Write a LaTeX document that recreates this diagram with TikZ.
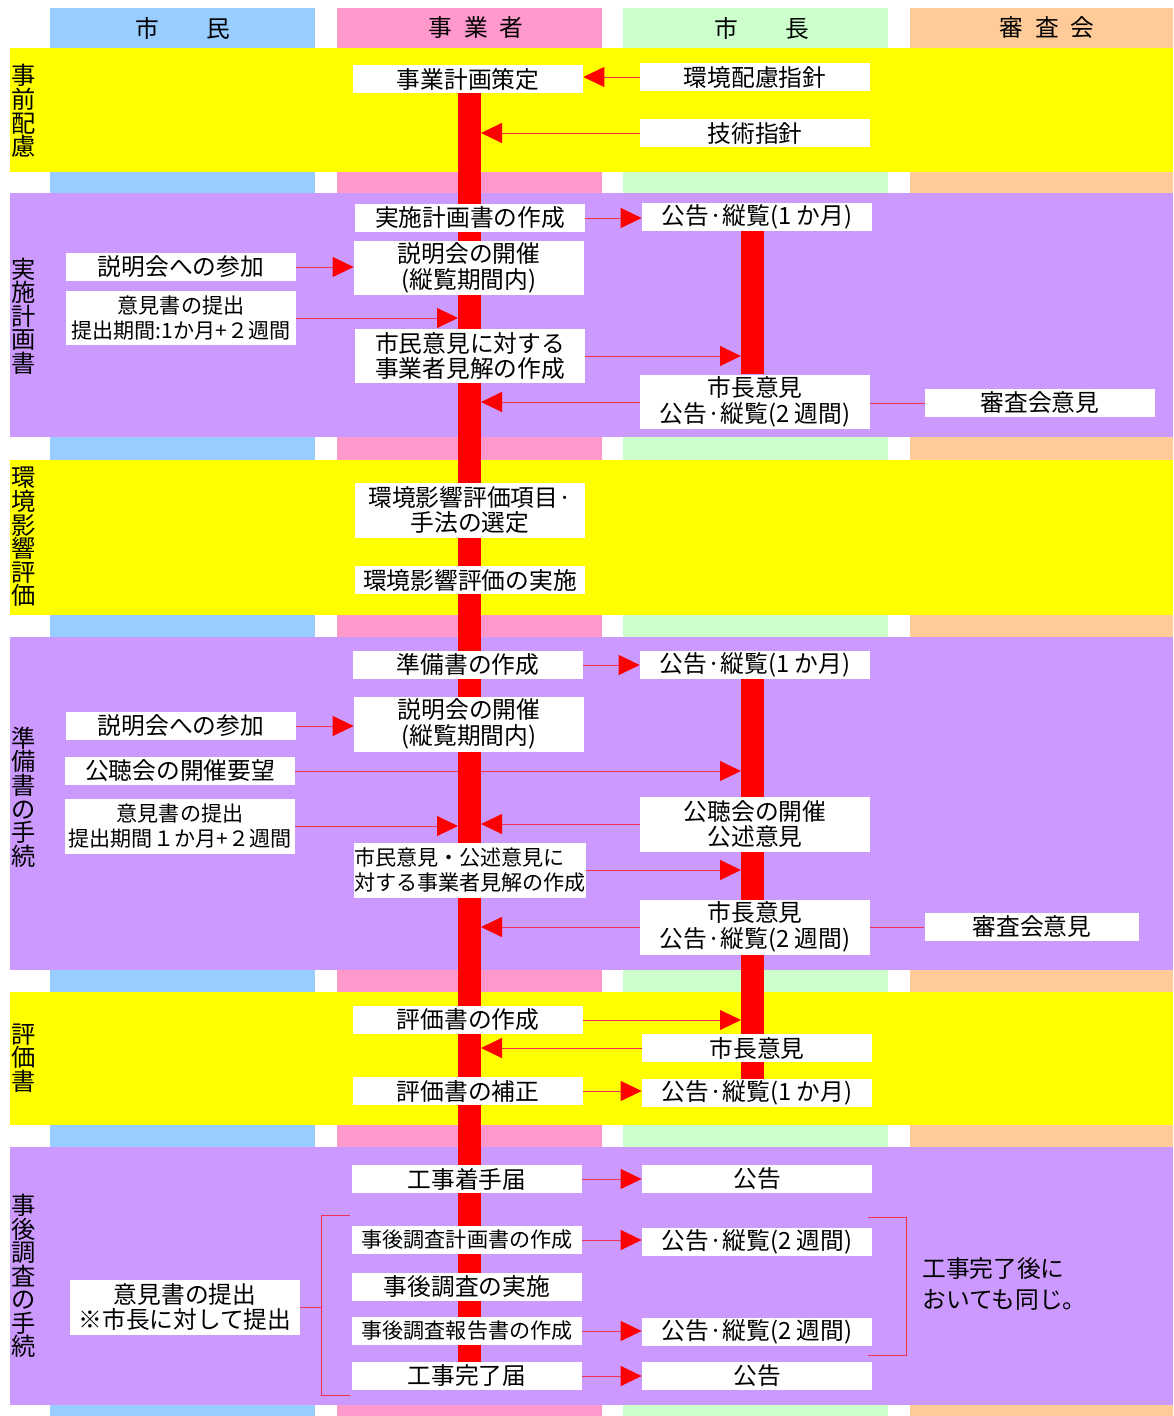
\documentclass[tikz,border=0pt]{standalone}
\usepackage{fontspec}
\newfontfamily\jp{Noto Sans CJK JP}
\usetikzlibrary{arrows.meta,positioning,calc}
\definecolor{laneblue}{HTML}{99CCFF}
\definecolor{lanepink}{HTML}{FF99CC}
\definecolor{lanegreen}{HTML}{CCFFCC}
\definecolor{laneorange}{HTML}{FFCC99}
\definecolor{bandyellow}{HTML}{FFFF00}
\definecolor{bandpurple}{HTML}{CC99FF}
\definecolor{linkred}{HTML}{F03050}
\pgfdeclarelayer{back}
\pgfdeclarelayer{mid}
\pgfsetlayers{back,mid,main}
\tikzset{
  box/.style={
    fill=white,
    inner sep=0pt,
    minimum width=4.6cm,
    minimum height=0.56cm,
    align=center,
    font=\jp\fontsize{13.5}{14.7}\selectfont},
  tallbox/.style={box, minimum height=1.1cm},
  small/.style={font=\jp\fontsize{12}{14.7}\selectfont},
  head/.style={inner sep=0pt, font=\jp\fontsize{13.5}{14.7}\selectfont},
  sidelabel/.style={inner sep=0pt, align=center,
    font=\jp\fontsize{13.8}{13.4}\selectfont},
  link/.style={draw=linkred, line width=0.5pt},
  arr/.style={link, -{Triangle[length=0.42cm, width=0.4cm, color=red]}},
  spine/.style={draw=red, line width=0.46cm},
}

\begin{document}
\begin{tikzpicture}[x=0.02cm, y=-0.02cm]
    \useasboundingbox (0,0) rectangle (1173,1416);

    % lanes and bands
    \begin{pgfonlayer}{back}
    \fill[laneblue] (50,8) rectangle (315,1416);
    \fill[lanepink] (337,8) rectangle (602,1416);
    \fill[lanegreen] (623,8) rectangle (888,1416);
    \fill[laneorange] (910,8) rectangle (1173,1416);
    \fill[bandyellow] (10,48) rectangle (1173,172);
    \fill[bandpurple] (10,193) rectangle (1173,437);
    \fill[bandyellow] (10,460) rectangle (1173,615);
    \fill[bandpurple] (10,637) rectangle (1173,970);
    \fill[bandyellow] (10,992) rectangle (1173,1125);
    \fill[bandpurple] (10,1147) rectangle (1173,1405);
    \end{pgfonlayer}

    \node[head] (hdshimin) at (183,28) {市\hspace{2em}民};
    \node[head] (hdjigyo) at (476,28) {事\hspace{0.5em}業\hspace{0.5em}者};
    \node[head] (hdshicho) at (762,28) {市\hspace{2em}長};
    \node[head] (hdshinsa) at (1047,28) {審\hspace{0.5em}査\hspace{0.5em}会};

    \node[sidelabel] (lbjizen) at (24,111) {事\\前\\配\\慮};
    \node[sidelabel] (lbjisshi) at (24,316) {実\\施\\計\\画\\書};
    \node[sidelabel] (lbeikyo) at (24,537) {環\\境\\影\\響\\評\\価};
    \node[sidelabel] (lbjunbi) at (24,797) {準\\備\\書\\の\\手\\続};
    \node[sidelabel] (lbhyoka) at (24,1058) {評\\価\\書};
    \node[sidelabel] (lbjigo) at (24,1276) {事\\後\\調\\査\\の\\手\\続};

    \coordinate (bizX) at (469.5,0);
    \coordinate (bizL) at (458,0);
    \coordinate (bizR) at (481,0);
    \coordinate (mayX) at (752.5,0);
    \coordinate (mayL) at (741,0);

    % 事前配慮
    \node[box] (keikaku) at (468,79) {事業計画策定};
    \node[box] (hairyo) at (755,77) {環境配慮指針};
    \node[box] (gijutsu) at (755,133) {技術指針};

    % 実施計画書
    \node[box] (jisshi) at (470,218) {実施計画書の作成};
    \node[box] (kokoku1) at (757,217) {公告·縦覧(1 か月)};
    \node[tallbox] (setsumei1) at (469,268) {説明会の開催\\(縦覧期間内)};
    \node[box] (sanka1) at (181,267) {説明会への参加};
    \node[tallbox, small] (iken1) at (181,318) {意見書の提出\\提出期間:1か月+２週間};
    \node[tallbox] (kenkai1) at (470,356) {市民意見に対する\\事業者見解の作成};
    \node[tallbox] (shicho1) at (755,402) {市長意見\\公告·縦覧(2 週間)};
    \node[box] (shinsa1) at (1040,403) {審査会意見};

    % 環境影響評価
    \node[tallbox] (komoku) at (470,510) {環境影響評価項目·\\手法の選定};
    \node[box] (hyoka) at (470,580) {環境影響評価の実施};

    % 準備書
    \node[box] (junbi) at (468,665) {準備書の作成};
    \node[box] (kokoku2) at (755,665) {公告·縦覧(1 か月)};
    \node[tallbox] (setsumei2) at (469,724) {説明会の開催\\(縦覧期間内)};
    \node[box] (sanka2) at (181,726) {説明会への参加};
    \node[box] (yobo) at (180,771) {公聴会の開催要望};
    \node[tallbox, small] (iken2) at (180,826) {意見書の提出\\提出期間１か月+２週間};
    \node[tallbox] (kochokai) at (755,824) {公聴会の開催\\公述意見};
    \node[tallbox, small, align=left] (kenkai2) at (470,870) {市民意見・公述意見に\\対する事業者見解の作成};
    \node[tallbox] (shicho2) at (755,927) {市長意見\\公告·縦覧(2 週間)};
    \node[box, minimum width=4.3cm] (shinsa2) at (1032,927) {審査会意見};

    % 評価書
    \node[box] (hyokasho) at (468,1020) {評価書の作成};
    \node[box] (shicho3) at (757,1048) {市長意見};
    \node[box] (hosei) at (468,1091) {評価書の補正};
    \node[box] (kokoku3) at (757,1093) {公告·縦覧(1 か月)};

    % 事後調査
    \node[box] (chakushu) at (467,1179) {工事着手届};
    \node[box] (kokoku4) at (757,1179) {公告};
    \node[box, small] (keikakusho) at (467,1240) {事後調査計画書の作成};
    \node[box] (kokoku5) at (757,1242) {公告·縦覧(2 週間)};
    \node[box] (jigo) at (467,1287) {事後調査の実施};
    \node[box, small] (hokoku) at (467,1331) {事後調査報告書の作成};
    \node[box] (kokoku6) at (757,1332) {公告·縦覧(2 週間)};
    \node[box] (kanryo) at (467,1376) {工事完了届};
    \node[box] (kokoku7) at (757,1376) {公告};
    \node[tallbox] (iken3) at (185,1307) {意見書の提出\\※市長に対して提出};
    \node[head, anchor=west, align=left,
          font=\jp\fontsize{13.5}{18}\selectfont] (onaji) at (922,1284)
          {工事完了後に\\おいても同じ。};

    \coordinate (brA) at (350,1215);
    \coordinate (brB) at (350,1395);
    \coordinate (brX) at (321,0);
    \coordinate (brC) at (868,1217);
    \coordinate (brD) at (868,1355);
    \coordinate (brY) at (906,0);

    \begin{pgfonlayer}{mid}
    \draw[arr] (hairyo.west) -- (hairyo.west -| keikaku.east);
    \draw[arr] (gijutsu.west) -- (gijutsu.west -| bizR);

    \draw[arr] (jisshi.east) -- (jisshi.east -| kokoku1.west);
    \draw[arr] (sanka1.east) -- (sanka1.east -| setsumei1.west);
    \draw[arr] (iken1.east) -- (iken1.east -| bizL);
    \draw[arr] (kenkai1.east) -- (kenkai1.east -| mayL);
    \draw[arr] (shicho1.west) -- (shicho1.west -| bizR);
    \draw[link] (shinsa1.west) -- (shinsa1.west -| shicho1.east);

    \draw[arr] (junbi.east) -- (kokoku2.west);
    \draw[arr] (sanka2.east) -- (sanka2.east -| setsumei2.west);
    \draw[arr] (yobo.east) -- (yobo.east -| mayL);
    \draw[arr] (iken2.east) -- (iken2.east -| bizL);
    \draw[arr] (kochokai.west) -- (kochokai.west -| bizR);
    \draw[arr] (kenkai2.east) -- (kenkai2.east -| mayL);
    \draw[arr] (shicho2.west) -- (shicho2.west -| bizR);
    \draw[link] (shinsa2.west) -- (shinsa2.west -| shicho2.east);

    \draw[arr] (hyokasho.east) -- (hyokasho.east -| mayL);
    \draw[arr] (shicho3.west) -- (shicho3.west -| bizR);
    \draw[arr] (hosei.east) -- (hosei.east -| kokoku3.west);

    \draw[arr] (chakushu.east) -- (kokoku4.west);
    \draw[arr] (keikakusho.east) -- (keikakusho.east -| kokoku5.west);
    \draw[arr] (hokoku.east) -- (hokoku.east -| kokoku6.west);
    \draw[arr] (kanryo.east) -- (kokoku7.west);

    \draw[link] (iken3.east) -- (iken3.east -| brX);
    \draw[link] (brA) -| (brB -| brX) -- (brB);
    \draw[link] (brC) -| (brD -| brY) -- (brD);

    \draw[spine] (keikaku.south -| bizX) -- (kanryo.north -| bizX);
    \draw[spine] (kokoku1.south -| mayX) -- (shicho1.north -| mayX);
    \draw[spine] (kokoku2.south -| mayX) -- (kokoku3.north -| mayX);
    \end{pgfonlayer}
\end{tikzpicture}
\end{document}
